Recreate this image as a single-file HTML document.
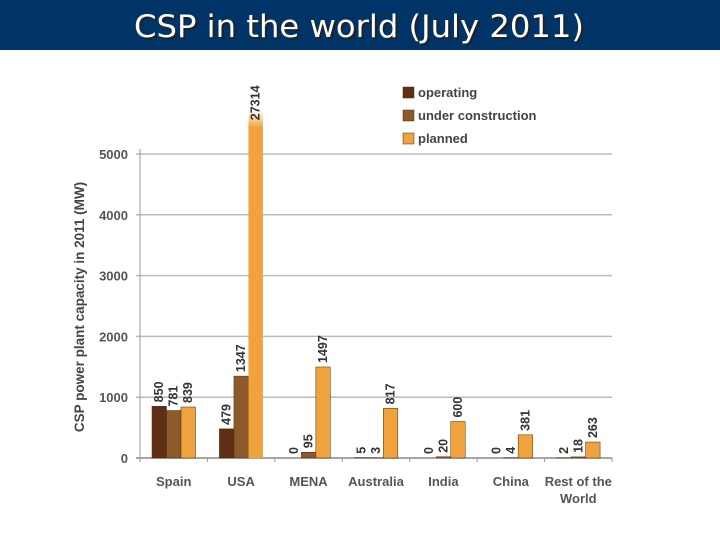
<!DOCTYPE html>
<html><head><meta charset="utf-8"><style>
html,body{margin:0;padding:0;background:#fff;}
svg{display:block;font-family:"Liberation Sans",sans-serif;}
</style></head><body>
<svg id="c" width="720" height="540" viewBox="0 0 720 540">
<rect x="0" y="0" width="720" height="50" fill="#003366"/>
<text x="361" y="39" text-anchor="middle" font-size="31" fill="#222" textLength="450" lengthAdjust="spacingAndGlyphs" font-family="DejaVu Sans, sans-serif">CSP in the world (July 2011)</text>
<text x="359" y="37" text-anchor="middle" font-size="31" fill="#fff" textLength="450" lengthAdjust="spacingAndGlyphs" font-family="DejaVu Sans, sans-serif">CSP in the world (July 2011)</text>
<defs><linearGradient id="fade" x1="0" y1="0" x2="0" y2="1"><stop offset="0" stop-color="#f0a23c" stop-opacity="0"/><stop offset="0.05" stop-color="#f0a23c" stop-opacity="1"/></linearGradient></defs>
<g id="plot"></g>
</svg>
<script>
const categories=["Spain","USA","MENA","Australia","India","China","Rest of the World"];
const operating=[850,479,0,5,0,0,2];
const underConstruction=[781,1347,95,3,20,4,18];
const planned=[839,27314,1497,817,600,381,263];
const yTicks=[0,1000,2000,3000,4000,5000];
const seriesNames=["operating","under construction","planned"];
const colors=["#5e2f12","#8d5a2c","#f0a23c"];
const NS="http://www.w3.org/2000/svg";
const g=document.getElementById('plot');
const x0=140,x1=612,yZero=458,yTop=154,yMax=5000,cap=5720;
const cw=(x1-x0)/categories.length;
function y(v){return yZero-(Math.min(v,cap)/yMax)*(yZero-yTop);}
function xc(i){return x0+i*cw;}
function el(t,a,txt){const e=document.createElementNS(NS,t);for(const k in a)e.setAttribute(k,a[k]);if(txt!==undefined)e.textContent=txt;g.appendChild(e);return e;}
yTicks.forEach(t=>{
  const l=el('line',{x1:x0-4,x2:x1,y1:y(t),y2:y(t),stroke:t===0?'#888':'#bbb','stroke-width':1.5});
  
  
  const tx=el('text',{x:x0-12,y:y(t)+5,'text-anchor':'end','font-size':13,fill:'#555','font-weight':'bold'},String(t));
  
  
});
const ax=el('line',{x1:x0,x2:x0,y1:yTop-5,y2:yZero+4,stroke:'#999','stroke-width':1});


const series=[operating,underConstruction,planned];
const bw=14.5;
categories.forEach((c,i)=>{
  const tk=el('line',{x1:xc(i+1),x2:xc(i+1),y1:yZero,y2:yZero+4,stroke:'#999'});
  
  
  series.forEach((s,j)=>{
    const v=s[i];const bx=xc(i)+12+j*bw;const top=y(v);
    const fill=(v>cap)?'url(#fade)':colors[j];
    const r=el('rect',{x:bx,y:top,width:bw,height:Math.max(yZero-top,0),fill:fill,stroke:v>cap?'none':'#4a2a10','stroke-width':0.5});
    
    
    const lx=bx+bw/2+4, ly=(v>cap?top+10:top-4);
    const t=el('text',{x:lx,y:ly,'font-size':12.5,fill:'#333','font-weight':'bold',transform:`rotate(-90 ${lx} ${ly})`},String(v));
    
    
  });
  const lines=c==="Rest of the World"?["Rest of the","World"]:[c];
  lines.forEach((ln,k)=>{
    const t=el('text',{x:xc(i)+cw/2,y:486+k*17,'text-anchor':'middle','font-size':13,fill:'#555','font-weight':'bold'},ln);
    
    
  });
});
const yt=el('text',{x:84,y:307,'text-anchor':'middle','font-size':13.5,fill:'#444','font-weight':'bold',transform:'rotate(-90 84 307)'},'CSP power plant capacity in 2011 (MW)');


seriesNames.forEach((n,j)=>{
  const r=el('rect',{x:403,y:87+j*23,width:11,height:11,fill:colors[j],stroke:'#4a2a10','stroke-width':0.5});
  
  
  const t=el('text',{x:418,y:97+j*23,'font-size':13,fill:'#444','font-weight':'bold'},n);
  
  
});
</script>
</body></html>
